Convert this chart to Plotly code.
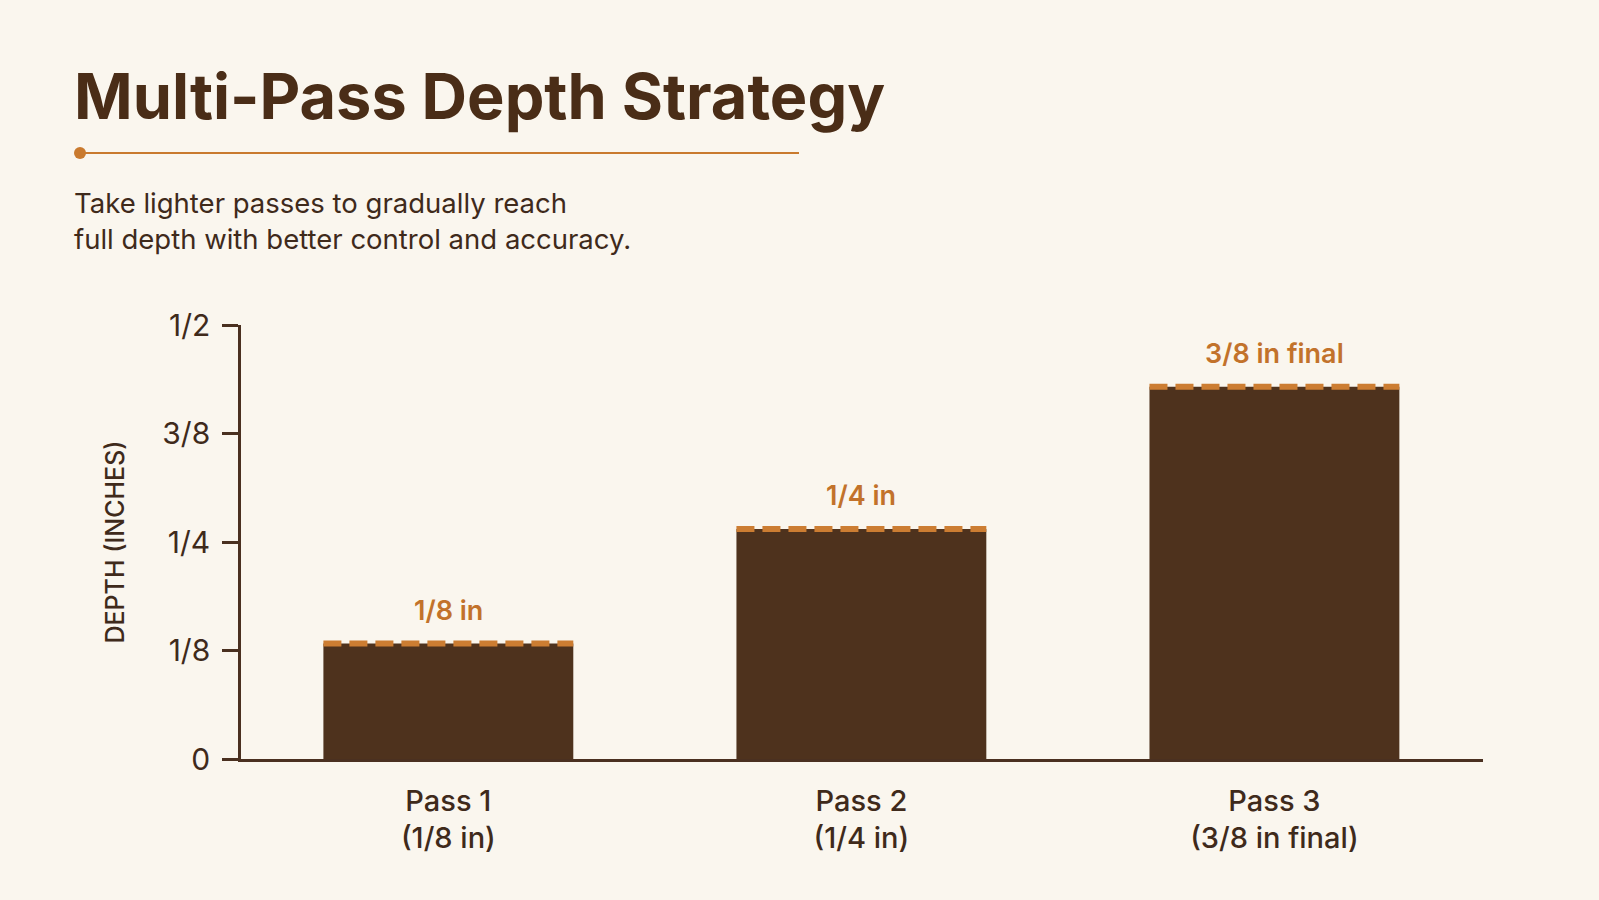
import plotly.graph_objects as go

# ---- data ----
categories = ["Pass 1<br>(1/8 in)", "Pass 2<br>(1/4 in)", "Pass 3<br>(3/8 in final)"]
depths = [0.133, 0.265, 0.429]
bar_labels = ["1/8 in", "1/4 in", "3/8 in final"]
y_tickvals = [0, 0.125, 0.25, 0.375, 0.5]
y_ticktext = ["0", "1/8", "1/4", "3/8", "1/2"]

# ---- style ----
BG = "#FAF6EE"
BAR = "#4E321D"
ORANGE = "#C97A2E"
DASH = "#CC7D32"
LABEL = "#C2722B"
TEXT = "#3F2A1B"
TITLE = "#4A2D17"
AXIS = "#4A3020"
FONT = "Inter"

W, H = 1599, 900
L, R, T, B = 241, 116, 325, 141
PW, PH = W - L - R, H - T - B
BAR_W = 0.605


def px(x):
    return (x - L) / PW


def py(y):
    return (H - B - y) / PH


xs = list(range(len(categories)))

fig = go.Figure()
fig.add_trace(go.Bar(
    x=xs, y=depths, width=BAR_W,
    marker=dict(color=BAR, line=dict(width=0)),
    hoverinfo="skip",
))

# dashed orange top edges + labels
for i, (v, lab) in enumerate(zip(depths, bar_labels)):
    fig.add_shape(type="line", xref="x", yref="y",
                  x0=i - BAR_W / 2, x1=i + BAR_W / 2, y0=v, y1=v,
                  line=dict(color=DASH, width=6, dash="18px,8px"))
    fig.add_annotation(x=i, y=v, xref="x", yref="y", text=lab,
                       showarrow=False, yanchor="bottom", yshift=15,
                       font=dict(family=FONT, size=27, color=LABEL, weight=600))

# title, rule, subtitle
fig.add_annotation(x=px(72), y=py(96), xref="paper", yref="paper",
                   text="Multi-Pass Depth Strategy", showarrow=False,
                   xanchor="left", yanchor="middle",
                   font=dict(family=FONT, size=63, color=TITLE, weight=700))
fig.add_shape(type="line", xref="paper", yref="paper",
              x0=px(80), x1=px(799), y0=py(153), y1=py(153),
              line=dict(color=ORANGE, width=2))
fig.add_shape(type="circle", xref="paper", yref="paper",
              x0=px(74), x1=px(86), y0=py(147), y1=py(159),
              fillcolor=ORANGE, line=dict(width=0))
fig.add_annotation(x=px(72), y=py(221), xref="paper", yref="paper",
                   text="Take lighter passes to gradually reach<br>full depth with better control and accuracy.",
                   showarrow=False, xanchor="left", yanchor="middle", align="left",
                   font=dict(family=FONT, size=27.5, color=TEXT))

fig.update_layout(
    width=W, height=H,
    margin=dict(l=L, r=R, t=T, b=B, autoexpand=False),
    paper_bgcolor=BG, plot_bgcolor=BG,
    showlegend=False,
    font=dict(family=FONT, color=TEXT),
    xaxis=dict(
        range=[-0.502, 2.505], tickvals=xs, ticktext=categories,
        showgrid=False, zeroline=False, showline=True,
        linecolor=AXIS, linewidth=2.5, ticks="",
        ticklabelstandoff=14,
        tickfont=dict(family=FONT, size=29, color=TEXT, weight=500),
    ),
    yaxis=dict(
        range=[0, 0.5], tickvals=y_tickvals, ticktext=y_ticktext,
        showgrid=False, zeroline=False, showline=True,
        linecolor=AXIS, linewidth=2.5,
        ticks="outside", ticklen=16, tickwidth=2.5, tickcolor=AXIS,
        ticklabelstandoff=6,
        tickfont=dict(family=FONT, size=30, color=TEXT),
        title=dict(text="DEPTH (INCHES)", standoff=31,
                   font=dict(family=FONT, size=25, color=TEXT, weight=500)),
    ),
)

fig.write_html(
    "out.html",
    config={"displayModeBar": False},
    post_script="document.body.style.margin='0';document.body.style.background='" + BG + "';",
)
